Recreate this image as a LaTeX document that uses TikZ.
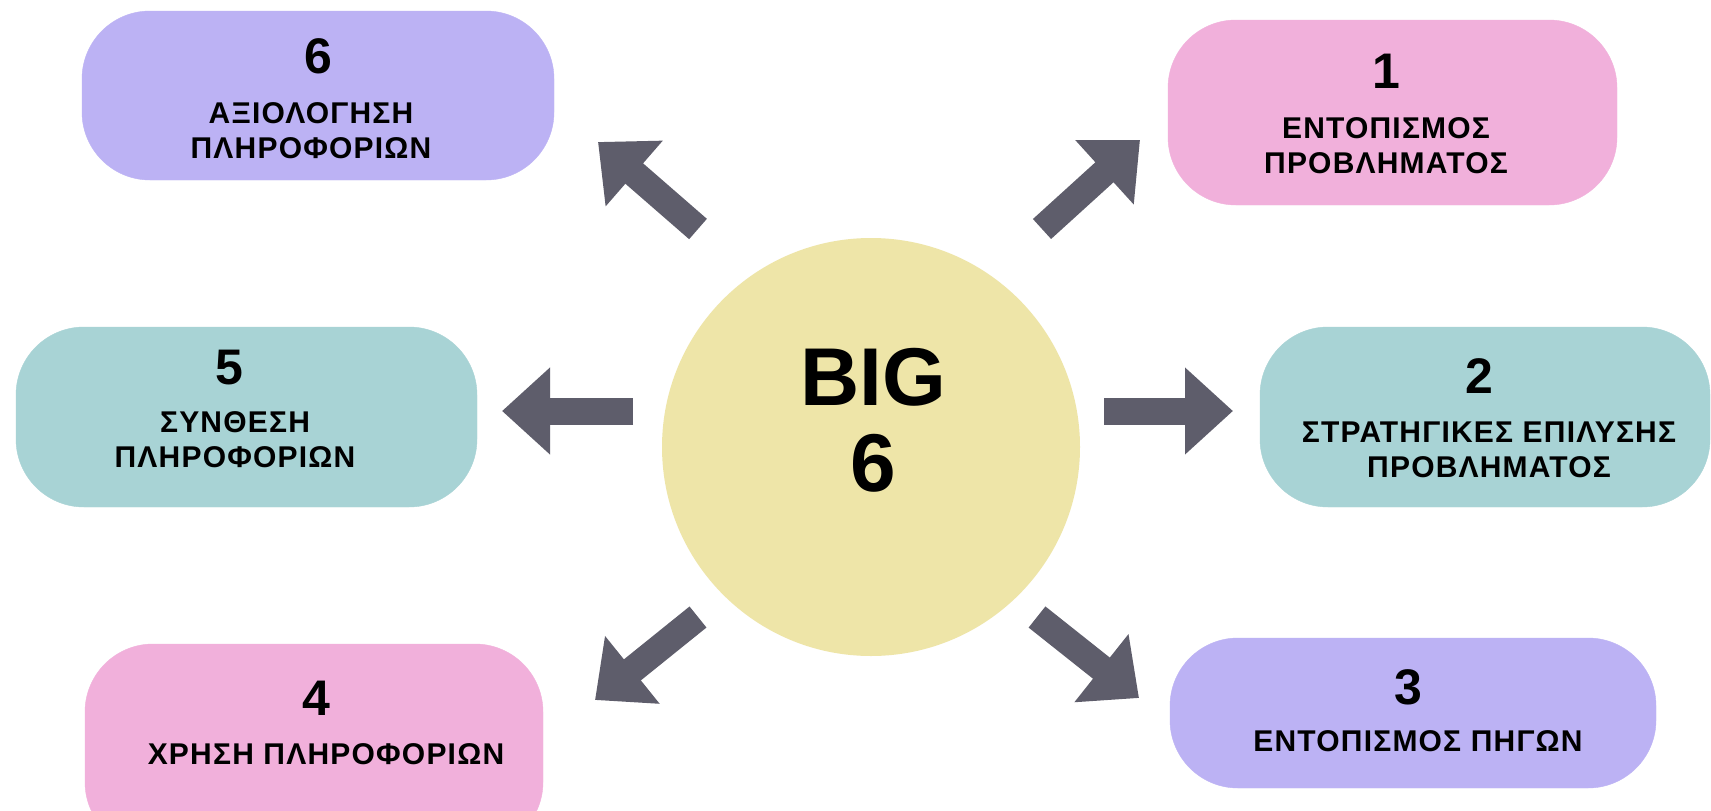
\documentclass[tikz,border=0pt]{standalone}
\usepackage{fontspec}
\setmainfont{Liberation Sans}
\newfontfamily\lblfont[LetterSpace=4]{Liberation Sans}
\usetikzlibrary{arrows.meta}
\definecolor{cpurple}{HTML}{BCB2F4}
\definecolor{cpink}{HTML}{F1B0DB}
\definecolor{cteal}{HTML}{A8D3D5}
\definecolor{cyellow}{HTML}{EEE5A8}
\definecolor{carrow}{HTML}{5E5D6B}
\tikzset{
  box/.style={rounded corners=68pt, inner sep=0pt},
  num/.style={font=\bfseries\fontsize{50}{56}\selectfont, inner sep=0pt},
  lbl/.style={font=\lblfont\bfseries\fontsize{30}{35}\selectfont, align=center, inner sep=0pt},
  bigarrow/.style={draw=carrow, line width=27pt, line cap=butt, -{Triangle[length=48pt,width=84pt]}},
}
\begin{document}
\begin{tikzpicture}[x=1pt,y=-1pt]
\useasboundingbox (0,0) rectangle (1711,811);
\clip (0,0) rectangle (1711,811);
\fill[white] (0,0) rectangle (1711,811);
% boxes
\filldraw[cpurple, box] (82,11) rectangle (554,180);
\node (b6) at (318,95) {};
\filldraw[cpink, box] (1168,20) rectangle (1617,205);
\node (b1) at (1392,112) {};
\filldraw[cteal, box] (16,327) rectangle (477,507);
\node (b5) at (246,417) {};
\filldraw[cteal, box] (1260,327) rectangle (1710,507);
\node (b2) at (1484,417) {};
\filldraw[cpink, box] (85,644) rectangle (543,850);
\node (b4) at (314,747) {};
\filldraw[cpurple, box] (1170,638) rectangle (1656,788);
\node (b3) at (1413,713) {};
% centre circle
\node[circle, fill=cyellow, minimum size=418pt, inner sep=0pt] (c) at (871,447) {};
\node[font=\bfseries\fontsize{82}{82}\selectfont, inner sep=0pt] (big) at (873,377) {BIG};
\node[font=\bfseries\fontsize{82}{82}\selectfont, inner sep=0pt] (six) at (873,463) {6};
% texts
\node[num] (n6) at (318,56) {6};
\node[lbl] (l6) at (311,131) {ΑΞΙΟΛΟΓΗΣΗ\\ΠΛΗΡΟΦΟΡΙΩΝ};
\node[num] (n1) at (1386,71) {1};
\node[lbl] (l1) at (1386,146) {ΕΝΤΟΠΙΣΜΟΣ\\ΠΡΟΒΛΗΜΑΤΟΣ};
\node[num] (n5) at (229,368) {5};
\node[lbl] (l5) at (235,440) {ΣΥΝΘΕΣΗ\\ΠΛΗΡΟΦΟΡΙΩΝ};
\node[num] (n2) at (1479,376) {2};
\node[lbl] (l2) at (1489,450) {ΣΤΡΑΤΗΓΙΚΕΣ ΕΠΙΛΥΣΗΣ\\ΠΡΟΒΛΗΜΑΤΟΣ};
\node[num] (n4) at (316,698) {4};
\node[lbl] (l4) at (326,754) {ΧΡΗΣΗ ΠΛΗΡΟΦΟΡΙΩΝ};
\node[num] (n3) at (1408,687) {3};
\node[lbl] (l3) at (1418,741) {ΕΝΤΟΠΙΣΜΟΣ ΠΗΓΩΝ};
% arrow ends
\coordinate (a6s) at (698,229); \coordinate (a6e) at (598,142);
\coordinate (a1s) at (1042,229); \coordinate (a1e) at (1140,140);
\coordinate (a5s) at (633,411); \coordinate (a5e) at (502,411);
\coordinate (a2s) at (1104,411); \coordinate (a2e) at (1233,411);
\coordinate (a4s) at (698,617); \coordinate (a4e) at (595,700);
\coordinate (a3s) at (1037,617); \coordinate (a3e) at (1139,698);
\draw[bigarrow] (a6s) -- (a6e);
\draw[bigarrow] (a1s) -- (a1e);
\draw[bigarrow] (a5s) -- (a5e);
\draw[bigarrow] (a2s) -- (a2e);
\draw[bigarrow] (a4s) -- (a4e);
\draw[bigarrow] (a3s) -- (a3e);
\end{tikzpicture}
\end{document}
